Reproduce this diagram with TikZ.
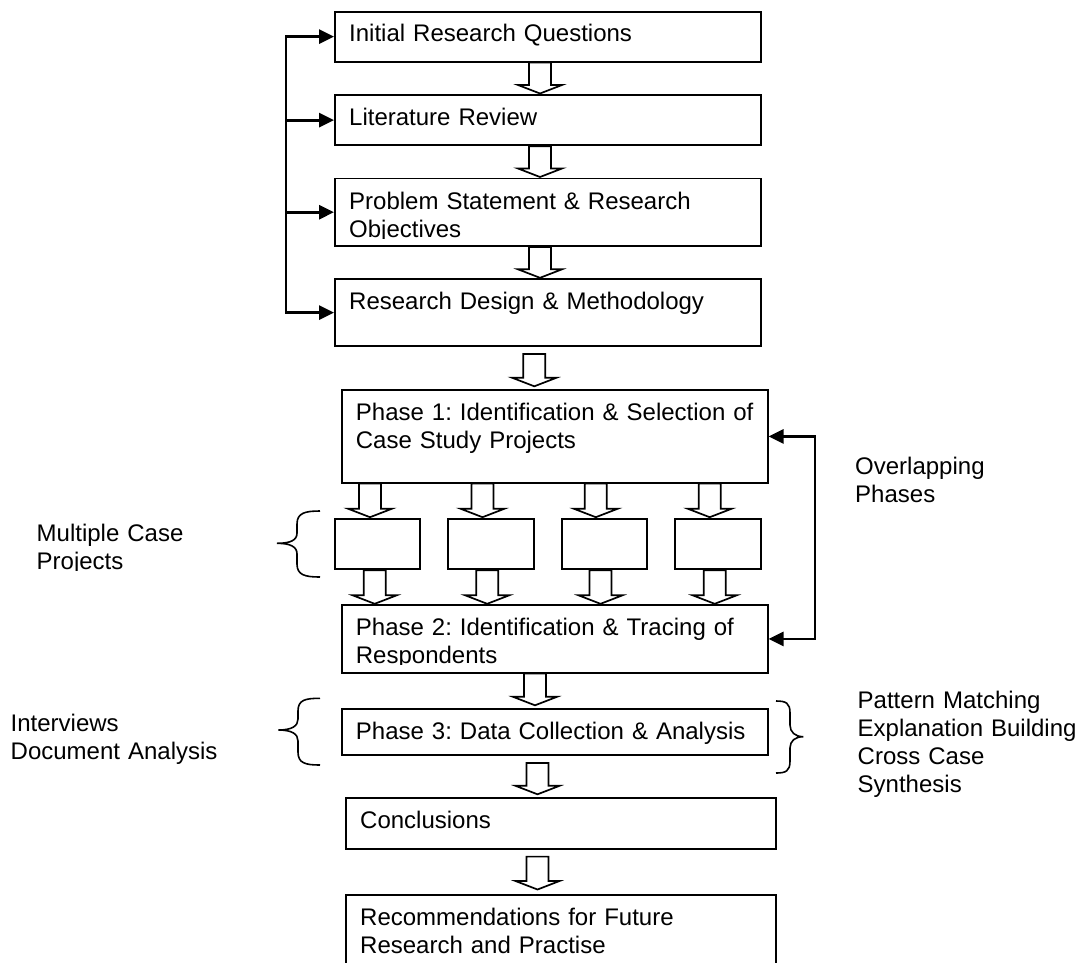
\documentclass[tikz,border=0pt]{standalone}
\usepackage{fontspec}
\setmainfont{Liberation Sans}
\usetikzlibrary{arrows.meta}
\frenchspacing

\tikzset{
  box/.style={draw, line width=1.9pt, rectangle, inner sep=0pt, anchor=north west, fill=white},
  txt/.style={inner sep=0pt, anchor=base west, align=left, text width=430pt,
    font=\fontsize{24}{28}\selectfont},
  fbline/.style={line width=2.9pt, line join=miter},
  fbhead/.style={-{Triangle[length=15pt,width=14pt]}},
  fbboth/.style={{Triangle[length=15pt,width=14pt]}-{Triangle[length=15pt,width=14pt]}},
  blockarrow/.style={draw, fill=white, line width=1.7pt, line join=miter},
  brc/.style={line width=1.6pt},
}

% hollow block arrow from node #1 down to node #2 along the vertical through #3;
% #4 = gap below the source, #5 = gap above the target
\newcommand\barrow[5]{%
  \path (#1.south -| #3) ++(0,#4) coordinate (bas);
  \path (#2.north -| #3) ++(0,-#5) coordinate (bae);
  \draw[blockarrow] ([shift={(-11,0)}]bas) -- ([shift={(-11,-8.5)}]bae)
    -- ([shift={(-22,-8.5)}]bae) -- (bae) -- ([shift={(22,-8.5)}]bae)
    -- ([shift={(11,-8.5)}]bae) -- ([shift={(11,0)}]bas) -- cycle;}

\begin{document}
\begin{tikzpicture}[x=1pt,y=-1pt]
\useasboundingbox (0,0) rectangle (1086,962);
\clip (0,0) rectangle (1086,962);

% ---- main column of boxes
\node[box, minimum width=426, minimum height=50]   (b1) at (334,10.7) {};
\node[box, minimum width=426, minimum height=50.3] (b2) at (334,94) {};
\node[box, minimum width=426, minimum height=67.5] (b3) at (334,177.5) {};
\node[box, minimum width=426, minimum height=66.7] (b4) at (334,278.3) {};
\node[box, minimum width=426, minimum height=92.4] (p1) at (340.7,389.3) {};
\node[box, minimum width=85.3, minimum height=50.6] (ca) at (334,517.7) {};
\node[box, minimum width=85.4, minimum height=50.6] (cb) at (447.3,517.7) {};
\node[box, minimum width=85.3, minimum height=50.6] (cc) at (560.7,517.7) {};
\node[box, minimum width=86,   minimum height=50.6] (cd) at (674,517.7) {};
\node[box, minimum width=426, minimum height=67.4] (p2) at (340.7,604.3) {};
\node[box, minimum width=426, minimum height=45.7] (p3) at (340.7,708.3) {};
\node[box, minimum width=430, minimum height=50.4] (co) at (345,797.3) {};
\node[box, minimum width=430, minimum height=110]  (re) at (345,894) {};

% ---- box texts
\node[txt] (t1) at ([shift={(15,31.2)}]b1.north west) {Initial Research Questions};
\node[txt] (t2) at ([shift={(15,31.5)}]b2.north west) {Literature Review};
\begin{scope}
  \clip (0,177) rectangle (1086,238.1);
  \node[txt] (t3) at ([shift={(15,31.6)}]b3.north west) {Problem Statement \& Research\\Objectives};
\end{scope}
\node[txt] (t4) at ([shift={(15,31)}]b4.north west) {Research Design \& Methodology};
\node[txt] (tp1) at ([shift={(15,30.8)}]p1.north west) {Phase 1: Identification \& Selection of\\Case Study Projects};
\begin{scope}
  \clip (0,604) rectangle (1086,664.6);
  \node[txt] (tp2) at ([shift={(15,31.6)}]p2.north west) {Phase 2: Identification \& Tracing of\\Respondents};
\end{scope}
\node[txt] (tp3) at ([shift={(15,30.8)}]p3.north west) {Phase 3: Data Collection \& Analysis};
\node[txt] (tco) at ([shift={(15,30.8)}]co.north west) {Conclusions};
\node[txt] (tre) at ([shift={(15,31)}]re.north west) {Recommendations for Future\\Research and Practise};

% ---- side labels
\begin{scope}
  \clip (0,500) rectangle (300,570.4);
  \node[txt] (lmc) at (36.5,541.7) {Multiple Case\\Projects};
\end{scope}
\node[txt] (lint) at (10.5,731) {Interviews\\Document Analysis};
\node[txt] (lov) at (855,474) {Overlapping\\Phases};
\node[txt] (lpm) at (857.5,708.3) {Pattern Matching\\Explanation Building\\Cross Case\\Synthesis};

% ---- hollow block arrows
\coordinate (xa) at (540,0);
\coordinate (xb) at (534.3,0);
\coordinate (xc) at (535,0);
\coordinate (xd) at (537.5,0);
\barrow{b1}{b2}{xa}{0}{0.5}
\barrow{b2}{b3}{xa}{0}{0.5}
\barrow{b3}{b4}{xa}{0}{0.5}
\barrow{b4}{p1}{xb}{7}{3}
\coordinate (xa1) at (370,0);
\coordinate (xb1) at (482.5,0);
\coordinate (xc1) at (595.8,0);
\coordinate (xd1) at (709.7,0);
\barrow{p1}{ca}{xa1}{0}{0.5}
\barrow{p1}{cb}{xb1}{0}{0.5}
\barrow{p1}{cc}{xc1}{0}{0.5}
\barrow{p1}{cd}{xd1}{0}{0.5}
\coordinate (xa2) at (374.7,0);
\coordinate (xb2) at (487.2,0);
\coordinate (xc2) at (600.5,0);
\coordinate (xd2) at (714.7,0);
\barrow{ca}{p2}{xa2}{0}{0.5}
\barrow{cb}{p2}{xb2}{0}{0.5}
\barrow{cc}{p2}{xc2}{0}{0.5}
\barrow{cd}{p2}{xd2}{0}{0.5}
\barrow{p2}{p3}{xc}{0}{3}
\barrow{p3}{co}{xd}{7}{3}
\barrow{co}{re}{xd}{7}{4.5}

% ---- feedback loops
\coordinate (lx) at (286,0);
\draw[fbline, fbboth] (b1.west) -- (b1.west -| lx) -- (b4.west -| lx) -- (b4.west);
\draw[fbline, fbhead] (b2.west -| lx) -- (b2.west);
\draw[fbline, fbhead] (b3.west -| lx) -- (b3.west);
\coordinate (rx) at (815,0);
\draw[fbline, fbboth] (p1.east) -- (p1.east -| rx) -- (p2.east -| rx) -- (p2.east);

% ---- braces
\draw[brc] (320,511) .. controls (305,511) and (297,513) .. (297,524) -- (297,533)
  .. controls (297,540) and (291,543.3) .. (277,543.3)
  .. controls (291,543.3) and (297,547) .. (297,554) -- (297,564)
  .. controls (297,575) and (305,577) .. (320,577);
\draw[brc] (320,698.3) .. controls (305,698.3) and (298,700) .. (298,711) -- (298,719)
  .. controls (298,726) and (292,730) .. (278.3,730)
  .. controls (292,730) and (298,734) .. (298,741) -- (298,752)
  .. controls (298,763) and (305,765) .. (320,765);
\draw[brc] (776,701) .. controls (786,701) and (790,703) .. (790,713) -- (790,725)
  .. controls (790,732) and (795,736.7) .. (803.3,736.7)
  .. controls (795,736.7) and (790,741) .. (790,748) -- (790,761)
  .. controls (790,771) and (786,773) .. (776,773);
\end{tikzpicture}
\end{document}
